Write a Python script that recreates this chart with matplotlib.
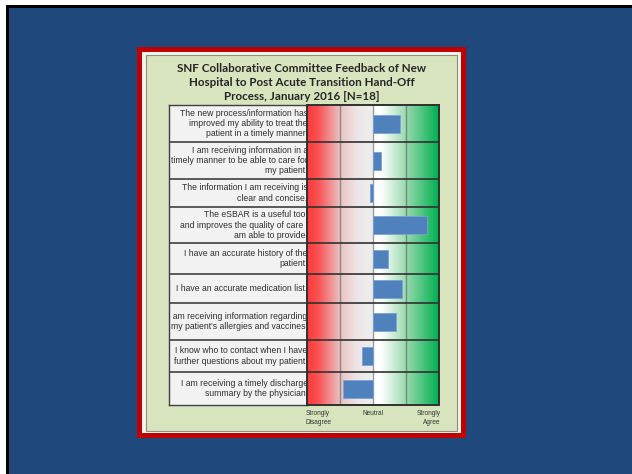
import numpy as np
import matplotlib
matplotlib.use('Agg')
import matplotlib.pyplot as plt
from matplotlib.patches import Rectangle
from matplotlib.colors import LinearSegmentedColormap

W, H = 632, 474

title = ('SNF Collaborative Committee Feedback of New\n'
         'Hospital to Post Acute Transition Hand-Off\n'
         'Process, January 2016 [N=18]')

statements = [
    'The new process/information has\nimproved my ability to treat the\npatient in a timely manner.',
    'I am receiving information in a\ntimely manner to be able to care for\nmy patient.',
    'The information I am receiving is\nclear and concise.',
    'The eSBAR is a useful tool\nand improves the quality of care I\nam able to provide.',
    'I have an accurate history of the\npatient.',
    'I have an accurate medication list.',
    'I am receiving information regarding\nmy patient\'s allergies and vaccines.',
    'I know who to contact when I have\nfurther questions about my patient.',
    'I am receiving a timely discharge\nsummary by the physician.',
]
# mean response, neutral = 0, strongly disagree = -2, strongly agree = 2
scores = [0.82, 0.24, -0.10, 1.65, 0.46, 0.89, 0.71, -0.34, -0.92]
scale_labels = ['Strongly\nDisagree', 'Neutral', 'Strongly\nAgree']

# row heights in pixels (layout only)
row_h = [37, 37, 28, 36, 31, 29, 37, 32, 33]


def fx(x):
    return x / W


def fy(y):
    return 1 - y / H


fig = plt.figure(figsize=(W / 100, H / 100), dpi=100, facecolor='white')


def frect(x0, y0, x1, y1, **kw):
    fig.patches.append(Rectangle((fx(x0), fy(y1)), fx(x1) - fx(x0), fy(y0) - fy(y1),
                                 transform=fig.transFigure, figure=fig, zorder=0, **kw))


# slide background
frect(6, 5, W, H, facecolor='black', edgecolor='none')
frect(9, 8, W, H, facecolor='#1F497D', edgecolor='none')
# red frame + panel
frect(137, 47, 466, 438, facecolor='#C00000', edgecolor='none')
frect(142, 52, 461, 433, facecolor='#F4F4E8', edgecolor='none')
frect(146, 55, 457, 431, facecolor='#D7E4BD', edgecolor='#8A8F80', linewidth=0.8)

fig.text(fx(302), fy(82.5), title, ha='center', va='center', fontsize=8.4,
         fontweight='bold', color='#262626', family=['Lato', 'DejaVu Sans'],
         linespacing=1.38, zorder=5)

top, bot = 105, 405
edges = np.concatenate([[0], np.cumsum(row_h)])
centers = (edges[:-1] + edges[1:]) / 2

# statement table
tab = fig.add_axes([fx(169), fy(bot), fx(307) - fx(169), fy(top) - fy(bot)])
tab.set_zorder(5)
tab.set_xlim(0, 1)
tab.set_ylim(edges[-1], 0)
tab.set_facecolor('#F2F2F2')
tab.set_xticks([])
tab.set_yticks([])
for s in tab.spines.values():
    s.set_color('#404040')
    s.set_linewidth(1.0)
for e in edges[1:-1]:
    tab.axhline(e, color='#404040', lw=1.2)
for c, txt in zip(centers, statements):
    tab.text(1.005, c, txt, ha='right', va='center', fontsize=6.25,
             color='#2E2E2E', linespacing=1.2, clip_on=True,
             family=['Liberation Sans', 'DejaVu Sans'])

# rating chart
ax = fig.add_axes([fx(307), fy(bot), fx(439) - fx(307), fy(top) - fy(bot)])
ax.set_zorder(6)
cmap = LinearSegmentedColormap.from_list('rg', [
    (0.0, '#FF3C3C'), (0.08, '#FA5050'), (0.25, '#E9C2C2'), (0.38, '#EDE6E6'),
    (0.499, '#EEEEEE'), (0.501, '#FFFFFF'), (0.56, '#FFFFFF'), (0.75, '#9ADAB0'),
    (1.0, '#00B050')])
grad = np.linspace(0, 1, 400).reshape(1, -1)
ax.imshow(grad, cmap=cmap, aspect='auto', extent=[-2, 2, edges[-1], 0], zorder=0)
ax.set_xlim(-2, 2)
ax.set_ylim(edges[-1], 0)
for g in [-1, 0, 1]:
    ax.axvline(g, color='#5A5A5A', lw=1.0, alpha=0.6, zorder=1)
ax.barh(centers, scores, height=18, left=0, color='#4F81BD', edgecolor='#7BA3D4',
        linewidth=0.6, zorder=2)
for e in edges[1:-1]:
    ax.axhline(e, color='#303030', lw=1.4, alpha=0.85, zorder=3)
ax.set_xticks([])
ax.set_yticks([])
for s in ax.spines.values():
    s.set_color('#303030')
    s.set_linewidth(1.4)

lab_kw = dict(fontsize=4.7, color='#333333', va='top', linespacing=1.35,
              transform=ax.get_xaxis_transform(), family=['Liberation Sans', 'DejaVu Sans'])
ax.text(-2.05, -0.017, scale_labels[0], ha='left', multialignment='left', **lab_kw)
ax.text(0, -0.017, scale_labels[1], ha='center', **lab_kw)
ax.text(2.05, -0.017, scale_labels[2], ha='right', multialignment='right', **lab_kw)

fig.savefig('out.png', dpi=100, facecolor=fig.get_facecolor())
